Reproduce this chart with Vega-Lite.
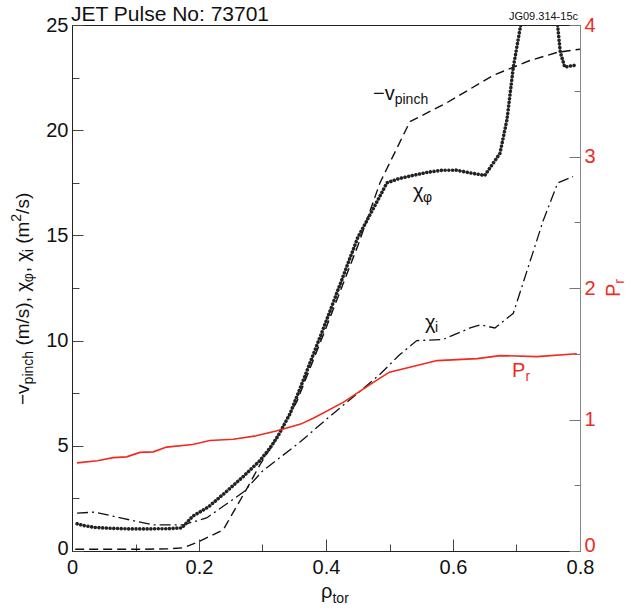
{
  "$schema": "https://vega.github.io/schema/vega-lite/v6.json",
  "width": 508,
  "height": 526,
  "autosize": {"type": "none"},
  "padding": {"left": 72, "top": 25, "right": 53, "bottom": 61},
  "config": {
    "font": "Liberation Sans",
    "view": {"stroke": "#222", "strokeWidth": 1},
    "axis": {"grid": false, "labelFont": "Liberation Sans", "labelFontSize": 20, "domainWidth": 1, "tickWidth": 1}
  },
  "datasets": {
    "left": [
      {"series": "vpinch", "x": 0.005, "y": 0.08}, {"series": "vpinch", "x": 0.05, "y": 0.08}, {"series": "vpinch", "x": 0.1, "y": 0.08}, {"series": "vpinch", "x": 0.15, "y": 0.1}, {"series": "vpinch", "x": 0.175, "y": 0.15}, {"series": "vpinch", "x": 0.2, "y": 0.45}, {"series": "vpinch", "x": 0.238, "y": 1.0}, {"series": "vpinch", "x": 0.276, "y": 3.0}, {"series": "vpinch", "x": 0.296, "y": 4.1}, {"series": "vpinch", "x": 0.323, "y": 5.4}, {"series": "vpinch", "x": 0.354, "y": 7.1}, {"series": "vpinch", "x": 0.4, "y": 10.6}, {"series": "vpinch", "x": 0.45, "y": 14.5}, {"series": "vpinch", "x": 0.485, "y": 17.5}, {"series": "vpinch", "x": 0.532, "y": 20.4}, {"series": "vpinch", "x": 0.59, "y": 21.3}, {"series": "vpinch", "x": 0.663, "y": 22.6}, {"series": "vpinch", "x": 0.72, "y": 23.3}, {"series": "vpinch", "x": 0.764, "y": 23.7}, {"series": "vpinch", "x": 0.8, "y": 23.85},
      {"series": "chiphi", "x": 0.008, "y": 1.29}, {"series": "chiphi", "x": 0.02, "y": 1.2}, {"series": "chiphi", "x": 0.036, "y": 1.12}, {"series": "chiphi", "x": 0.06, "y": 1.08}, {"series": "chiphi", "x": 0.09, "y": 1.05}, {"series": "chiphi", "x": 0.12, "y": 1.05}, {"series": "chiphi", "x": 0.15, "y": 1.06}, {"series": "chiphi", "x": 0.173, "y": 1.1}, {"series": "chiphi", "x": 0.19, "y": 1.65}, {"series": "chiphi", "x": 0.215, "y": 2.1}, {"series": "chiphi", "x": 0.244, "y": 2.85}, {"series": "chiphi", "x": 0.27, "y": 3.55}, {"series": "chiphi", "x": 0.296, "y": 4.3}, {"series": "chiphi", "x": 0.312, "y": 4.9}, {"series": "chiphi", "x": 0.325, "y": 5.5}, {"series": "chiphi", "x": 0.343, "y": 6.5}, {"series": "chiphi", "x": 0.364, "y": 8.1}, {"series": "chiphi", "x": 0.4, "y": 10.9}, {"series": "chiphi", "x": 0.43, "y": 13.3}, {"series": "chiphi", "x": 0.45, "y": 14.9}, {"series": "chiphi", "x": 0.475, "y": 16.3}, {"series": "chiphi", "x": 0.496, "y": 17.5}, {"series": "chiphi", "x": 0.515, "y": 17.7}, {"series": "chiphi", "x": 0.537, "y": 17.85}, {"series": "chiphi", "x": 0.56, "y": 18.0}, {"series": "chiphi", "x": 0.584, "y": 18.1}, {"series": "chiphi", "x": 0.605, "y": 18.1}, {"series": "chiphi", "x": 0.622, "y": 18.0}, {"series": "chiphi", "x": 0.65, "y": 17.85}, {"series": "chiphi", "x": 0.674, "y": 18.9}, {"series": "chiphi", "x": 0.685, "y": 20.5}, {"series": "chiphi", "x": 0.695, "y": 23.0}, {"series": "chiphi", "x": 0.706, "y": 24.9}, {"series": "chiphi", "x": 0.715, "y": 26.5}, {"series": "chiphi", "x": 0.74, "y": 28.0}, {"series": "chiphi", "x": 0.758, "y": 26.5}, {"series": "chiphi", "x": 0.764, "y": 25.2}, {"series": "chiphi", "x": 0.769, "y": 23.7}, {"series": "chiphi", "x": 0.776, "y": 23.0}, {"series": "chiphi", "x": 0.785, "y": 23.05}, {"series": "chiphi", "x": 0.795, "y": 23.1},
      {"series": "chii", "x": 0.008, "y": 1.8}, {"series": "chii", "x": 0.036, "y": 1.85}, {"series": "chii", "x": 0.08, "y": 1.55}, {"series": "chii", "x": 0.128, "y": 1.24}, {"series": "chii", "x": 0.175, "y": 1.24}, {"series": "chii", "x": 0.212, "y": 1.57}, {"series": "chii", "x": 0.27, "y": 2.8}, {"series": "chii", "x": 0.3, "y": 3.8}, {"series": "chii", "x": 0.36, "y": 5.2}, {"series": "chii", "x": 0.406, "y": 6.4}, {"series": "chii", "x": 0.45, "y": 7.5}, {"series": "chii", "x": 0.485, "y": 8.4}, {"series": "chii", "x": 0.515, "y": 9.3}, {"series": "chii", "x": 0.543, "y": 10.0}, {"series": "chii", "x": 0.584, "y": 10.05}, {"series": "chii", "x": 0.627, "y": 10.6}, {"series": "chii", "x": 0.643, "y": 10.75}, {"series": "chii", "x": 0.666, "y": 10.6}, {"series": "chii", "x": 0.695, "y": 11.3}, {"series": "chii", "x": 0.742, "y": 15.7}, {"series": "chii", "x": 0.765, "y": 17.5}, {"series": "chii", "x": 0.789, "y": 17.8}
    ],
    "pr": [
      {"x": 0.008, "y": 0.67}, {"x": 0.04, "y": 0.686}, {"x": 0.065, "y": 0.71}, {"x": 0.086, "y": 0.716}, {"x": 0.107, "y": 0.75}, {"x": 0.128, "y": 0.754}, {"x": 0.149, "y": 0.79}, {"x": 0.19, "y": 0.81}, {"x": 0.217, "y": 0.84}, {"x": 0.254, "y": 0.85}, {"x": 0.29, "y": 0.876}, {"x": 0.323, "y": 0.914}, {"x": 0.36, "y": 0.965}, {"x": 0.38, "y": 1.01}, {"x": 0.427, "y": 1.13}, {"x": 0.48, "y": 1.3}, {"x": 0.5, "y": 1.36}, {"x": 0.575, "y": 1.448}, {"x": 0.638, "y": 1.463}, {"x": 0.674, "y": 1.486}, {"x": 0.732, "y": 1.478}, {"x": 0.795, "y": 1.5}
    ],
    "labels": [
      {"group": "h", "kind": "title", "ref": "left", "text": "JET Pulse No: 73701", "x": -0.0016, "y": 25.19},
      {"group": "h", "kind": "main", "ref": "left", "text": "−v", "x": 0.474, "y": 21.44},
      {"group": "h", "kind": "sub", "ref": "left", "text": "pinch", "x": 0.5082, "y": 21.25},
      {"group": "h", "kind": "main", "ref": "left", "text": "χ", "x": 0.537, "y": 16.8},
      {"group": "h", "kind": "sub", "ref": "left", "text": "φ", "x": 0.5528, "y": 16.61},
      {"group": "h", "kind": "main", "ref": "left", "text": "χ", "x": 0.556, "y": 10.575},
      {"group": "h", "kind": "sub", "ref": "left", "text": "i", "x": 0.5717, "y": 10.385},
      {"group": "h", "kind": "main", "ref": "right", "text": "P", "x": 0.693, "y": 8.27},
      {"group": "h", "kind": "sub", "ref": "right", "text": "r", "x": 0.714, "y": 8.08},
      {"group": "h", "kind": "main", "ref": "left", "text": "ρ", "x": 0.392, "y": -2.234},
      {"group": "h", "kind": "sub", "ref": "left", "text": "tor", "x": 0.4102, "y": -2.471},
      {"group": "h", "kind": "small", "ref": "left", "text": "JG09.314-15c", "x": 0.7969, "y": 25.24},
      {"group": "vl", "kind": "main", "ref": "left", "text": "−v", "x": -0.0677, "y": 6.939},
      {"group": "vl", "kind": "sub", "ref": "left", "text": "pinch", "x": -0.0614, "y": 7.918},
      {"group": "vl", "kind": "main", "ref": "left", "text": "(m/s), χ", "x": -0.0677, "y": 9.762},
      {"group": "vl", "kind": "sub", "ref": "left", "text": "φ", "x": -0.0614, "y": 12.771},
      {"group": "vl", "kind": "main", "ref": "left", "text": ", χ", "x": -0.0677, "y": 13.246},
      {"group": "vl", "kind": "sub", "ref": "left", "text": "i", "x": -0.0614, "y": 14.202},
      {"group": "vl", "kind": "main", "ref": "left", "text": "(m", "x": -0.0677, "y": 14.601},
      {"group": "vl", "kind": "sub", "ref": "left", "text": "2", "x": -0.0803, "y": 15.651},
      {"group": "vl", "kind": "main", "ref": "left", "text": "/s)", "x": -0.0677, "y": 16.022},
      {"group": "vr", "kind": "main", "ref": "right", "text": "P", "x": 0.863, "y": 12.07},
      {"group": "vr", "kind": "sub", "ref": "right", "text": "r", "x": 0.8693, "y": 12.7}
    ]
  },
  "encoding": {
    "x": {
      "field": "x", "type": "quantitative",
      "scale": {"domain": [0, 0.8], "nice": false, "zero": false},
      "axis": {
        "orient": "bottom", "title": null,
        "values": [0, 0.1, 0.2, 0.3, 0.4, 0.5, 0.6, 0.7, 0.8],
        "labelExpr": "round(datum.value*10) % 2 === 0 ? (datum.value === 0 ? '0' : format(datum.value, '.1f')) : ''",
        "tickSize": {"condition": {"test": "round(datum.value*10) % 2 === 0", "value": -12}, "value": -7},
        "labelPadding": 18, "labelColor": "#111", "domainColor": "#222", "tickColor": "#444", "labelFlush": false
      }
    }
  },
  "layer": [
    {
      "data": {"name": "left"},
      "encoding": {
        "y": {
          "field": "y", "type": "quantitative",
          "scale": {"domain": [0, 25], "nice": false, "zero": false},
          "axis": {
            "orient": "left", "title": null,
            "values": [0, 2.5, 5, 7.5, 10, 12.5, 15, 17.5, 20, 22.5, 25],
            "labelExpr": "datum.value % 5 === 0 ? format(datum.value, 'd') : ''",
            "tickSize": {"condition": {"test": "datum.value % 5 === 0", "value": -11}, "value": -7},
            "labelOffset": {"condition": {"test": "datum.value === 0", "value": -3}, "value": 0},
            "labelPadding": 15, "labelColor": "#111", "domainColor": "#222", "tickColor": "#444", "labelFlush": false
          }
        }
      },
      "layer": [
        {"transform": [{"filter": "datum.series === 'vpinch'"}], "mark": {"type": "line", "color": "#111", "strokeWidth": 1.4, "strokeDash": [9, 5], "clip": true}},
        {"transform": [{"filter": "datum.series === 'chii'"}], "mark": {"type": "line", "color": "#111", "strokeWidth": 1.3, "strokeDash": [11, 4, 2, 4], "clip": true}},
        {"transform": [{"filter": "datum.series === 'chiphi'"}], "mark": {"type": "line", "color": "#222", "strokeWidth": 3.6, "strokeCap": "round", "strokeDash": [0.01, 3.7], "clip": true}},
        {
          "data": {"name": "labels"},
          "transform": [{"filter": "datum.kind === 'title'"}],
          "mark": {"type": "text", "fontSize": 21, "align": "left", "baseline": "alphabetic", "font": "Liberation Sans"},
          "encoding": {"text": {"field": "text"}, "color": {"field": "ref", "type": "nominal", "scale": {"domain": ["left", "right"], "range": ["#111", "#ee2b1e"]}, "legend": null}}
        },
        {
          "data": {"name": "labels"},
          "transform": [{"filter": "datum.group === 'h' && datum.kind === 'main'"}],
          "mark": {"type": "text", "fontSize": 20, "align": "left", "baseline": "alphabetic", "font": "Liberation Sans"},
          "encoding": {"text": {"field": "text"}, "color": {"field": "ref", "type": "nominal", "legend": null}}
        },
        {
          "data": {"name": "labels"},
          "transform": [{"filter": "datum.group === 'h' && datum.kind === 'sub'"}],
          "mark": {"type": "text", "fontSize": 14, "align": "left", "baseline": "alphabetic", "font": "Liberation Sans"},
          "encoding": {"text": {"field": "text"}, "color": {"field": "ref", "type": "nominal", "legend": null}}
        },
        {
          "data": {"name": "labels"},
          "transform": [{"filter": "datum.kind === 'small'"}],
          "mark": {"type": "text", "fontSize": 11, "align": "right", "baseline": "alphabetic", "font": "Liberation Sans"},
          "encoding": {"text": {"field": "text"}, "color": {"field": "ref", "type": "nominal", "legend": null}}
        },
        {
          "data": {"name": "labels"},
          "transform": [{"filter": "datum.group === 'vl' && datum.kind === 'main'"}],
          "mark": {"type": "text", "fontSize": 19, "angle": -90, "align": "left", "baseline": "alphabetic", "font": "Liberation Sans"},
          "encoding": {"text": {"field": "text"}, "color": {"field": "ref", "type": "nominal", "legend": null}}
        },
        {
          "data": {"name": "labels"},
          "transform": [{"filter": "datum.group === 'vl' && datum.kind === 'sub'"}],
          "mark": {"type": "text", "fontSize": 14, "angle": -90, "align": "left", "baseline": "alphabetic", "font": "Liberation Sans"},
          "encoding": {"text": {"field": "text"}, "color": {"field": "ref", "type": "nominal", "legend": null}}
        },
        {
          "data": {"name": "labels"},
          "transform": [{"filter": "datum.group === 'vr' && datum.kind === 'main'"}],
          "mark": {"type": "text", "fontSize": 20, "angle": -90, "align": "left", "baseline": "alphabetic", "font": "Liberation Sans"},
          "encoding": {"text": {"field": "text"}, "color": {"field": "ref", "type": "nominal", "legend": null}}
        },
        {
          "data": {"name": "labels"},
          "transform": [{"filter": "datum.group === 'vr' && datum.kind === 'sub'"}],
          "mark": {"type": "text", "fontSize": 14, "angle": -90, "align": "left", "baseline": "alphabetic", "font": "Liberation Sans"},
          "encoding": {"text": {"field": "text"}, "color": {"field": "ref", "type": "nominal", "legend": null}}
        }
      ]
    },
    {
      "data": {"name": "pr"},
      "mark": {"type": "line", "color": "#ee2b1e", "strokeWidth": 1.6},
      "encoding": {
        "y": {
          "field": "y", "type": "quantitative",
          "scale": {"domain": [0, 4], "nice": false, "zero": false},
          "axis": {
            "orient": "right", "title": null,
            "values": [0, 0.5, 1, 1.5, 2, 2.5, 3, 3.5, 4],
            "labelExpr": "datum.value % 1 === 0 ? format(datum.value, 'd') : ''",
            "tickSize": {"condition": {"test": "datum.value % 1 === 0", "value": -11}, "value": -6},
            "labelOffset": {"condition": {"test": "datum.value === 0", "value": -6}, "value": 0},
            "labelPadding": 15, "labelColor": "#ee2b1e", "domainColor": "#888", "tickColor": "#777", "labelFlush": false
          }
        }
      }
    }
  ],
  "resolve": {"scale": {"y": "independent"}}
}
